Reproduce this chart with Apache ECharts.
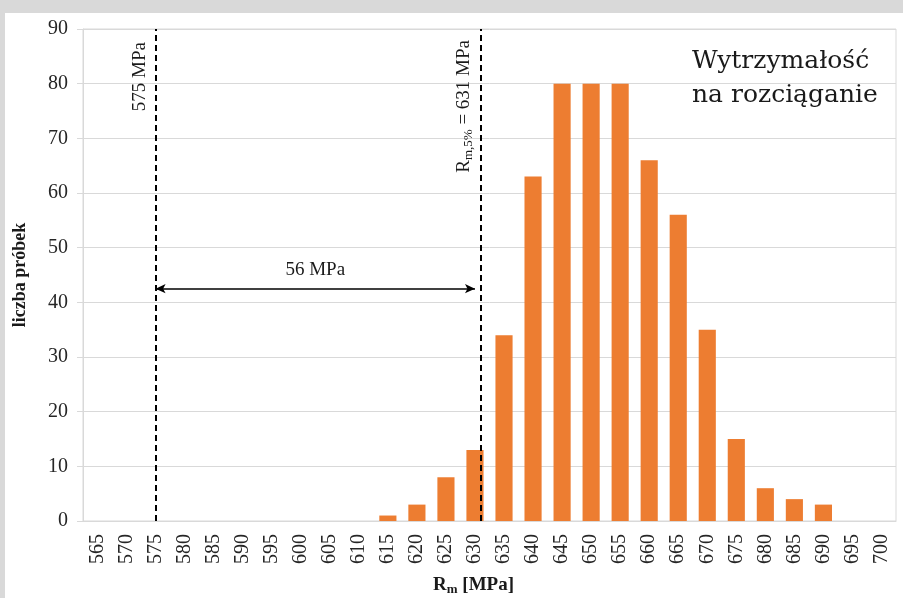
<!DOCTYPE html>
<html>
<head>
<meta charset="utf-8">
<title>Wytrzymałość na rozciąganie</title>
<script src="https://cdn.jsdelivr.net/npm/echarts@6/dist/echarts.min.js"></script>
<style>
    html, body { margin: 0; padding: 0; background: #d9d9d9; }
    #chartBar { width: 903px; height: 598px; }
</style>
</head>
<body>
<div id="chartBar"></div>
<script>
    // Rm classes [MPa]
    var categories = ['565', '570', '575', '580', '585', '590', '595', '600', '605', '610',
        '615', '620', '625', '630', '635', '640', '645', '650', '655', '660',
        '665', '670', '675', '680', '685', '690', '695', '700'];
    // number of samples per class
    var counts = [0, 0, 0, 0, 0, 0, 0, 0, 0, 0,
        1, 3, 8, 13, 34, 63, 80, 80, 80, 66,
        56, 35, 15, 6, 4, 3, 0, 0];
    // annotation values
    var minLimit = 575;
    var r5Limit = 631;
    var arrowEnd = 630;
    var arrowY = 42.5;

    var serif = '"Liberation Serif", "Times New Roman", serif';

    var chart = echarts.init(document.getElementById('chartBar'));
    chart.setOption({
        backgroundColor: '#d9d9d9',
        animation: false,
        textStyle: {fontFamily: serif},
        graphic: [
            {
                type: 'rect', z: -100,
                shape: {x: 5, y: 13, width: 898, height: 585},
                style: {fill: '#ffffff'}
            },
            {
                type: 'text', left: 692, top: 44,
                style: {
                    text: 'Wytrzymałość\nna rozciąganie',
                    font: '25px "DejaVu Serif", serif',
                    lineHeight: 34,
                    fill: '#1a1a1a'
                }
            }
        ],
        grid: {
            left: 83, right: 7, top: 29, bottom: 77,
            outerBoundsMode: 'none',
            show: true, borderColor: '#d9d9d9', borderWidth: 1
        },
        xAxis: [
            {
                type: 'category',
                data: categories,
                name: '{b|R}{s|m}{b| [MPa]}',
                nameLocation: 'middle',
                nameGap: 53,
                nameTextStyle: {
                    padding: [0, 32, 0, 0],
                    rich: {
                        b: {fontFamily: serif, fontSize: 19, fontWeight: 'bold', color: '#1a1a1a', lineHeight: 22},
                        s: {fontFamily: serif, fontSize: 13, fontWeight: 'bold', color: '#1a1a1a', lineHeight: 22, verticalAlign: 'bottom', padding: [7, 0, 0, 0]}
                    }
                },
                axisLine: {lineStyle: {color: '#d9d9d9'}},
                axisTick: {alignWithLabel: true, length: 5, lineStyle: {color: '#c8c8c8'}},
                axisLabel: {
                    rotate: 90, interval: 0, margin: 13,
                    fontFamily: serif, fontSize: 20, color: '#262626'
                }
            },
            {
                type: 'value', min: 562.5, max: 702.5, show: false
            }
        ],
        yAxis: {
            type: 'value',
            min: 0, max: 90, interval: 10,
            name: 'liczba próbek',
            nameLocation: 'middle',
            nameGap: 54,
            nameTextStyle: {fontFamily: serif, fontSize: 18, fontWeight: 'bold', color: '#1a1a1a'},
            axisLine: {show: true, lineStyle: {color: '#d9d9d9'}},
            axisTick: {show: true, length: 6, lineStyle: {color: '#d9d9d9'}},
            splitLine: {lineStyle: {color: '#d9d9d9'}},
            axisLabel: {margin: 15, fontFamily: serif, fontSize: 20, color: '#262626'}
        },
        series: [
            {
                name: 'liczba próbek',
                type: 'bar',
                data: counts,
                barCategoryGap: '41%',
                itemStyle: {color: '#ed7d31'}
            },
            {
                name: 'adnotacje',
                type: 'line',
                xAxisIndex: 1,
                data: [],
                silent: true,
                markLine: {
                    silent: true,
                    symbol: 'none',
                    lineStyle: {color: '#000', width: 2, type: [6, 4]},
                    label: {fontFamily: serif, fontSize: 19, color: '#1a1a1a'},
                    data: [
                        [
                            {coord: [minLimit, 0], label: {show: true, position: 'insideEndTop', distance: [13, 6], formatter: minLimit + ' MPa'}},
                            {coord: [minLimit, 90]}
                        ],
                        [
                            {
                                coord: [r5Limit, 0],
                                label: {
                                    show: true, position: 'insideEndTop', distance: [11, 6],
                                    formatter: '{a|R}{s|m,5%}{a| = ' + r5Limit + ' MPa}',
                                    rich: {
                                        a: {fontFamily: serif, fontSize: 19, color: '#1a1a1a', lineHeight: 22},
                                        s: {fontFamily: serif, fontSize: 13, color: '#1a1a1a', lineHeight: 22, verticalAlign: 'bottom', padding: [7, 0, 0, 0]}
                                    }
                                }
                            },
                            {coord: [r5Limit, 90]}
                        ],
                        [
                            {
                                coord: [minLimit, arrowY],
                                symbol: 'arrow', symbolSize: [7, 10],
                                lineStyle: {type: 'solid', width: 1.5},
                                label: {show: true, position: 'middle', distance: 9, formatter: (r5Limit - minLimit) + ' MPa'}
                            },
                            {coord: [arrowEnd, arrowY], symbol: 'arrow', symbolSize: [7, 10]}
                        ]
                    ]
                }
            }
        ]
    });
</script>
</body>
</html>
